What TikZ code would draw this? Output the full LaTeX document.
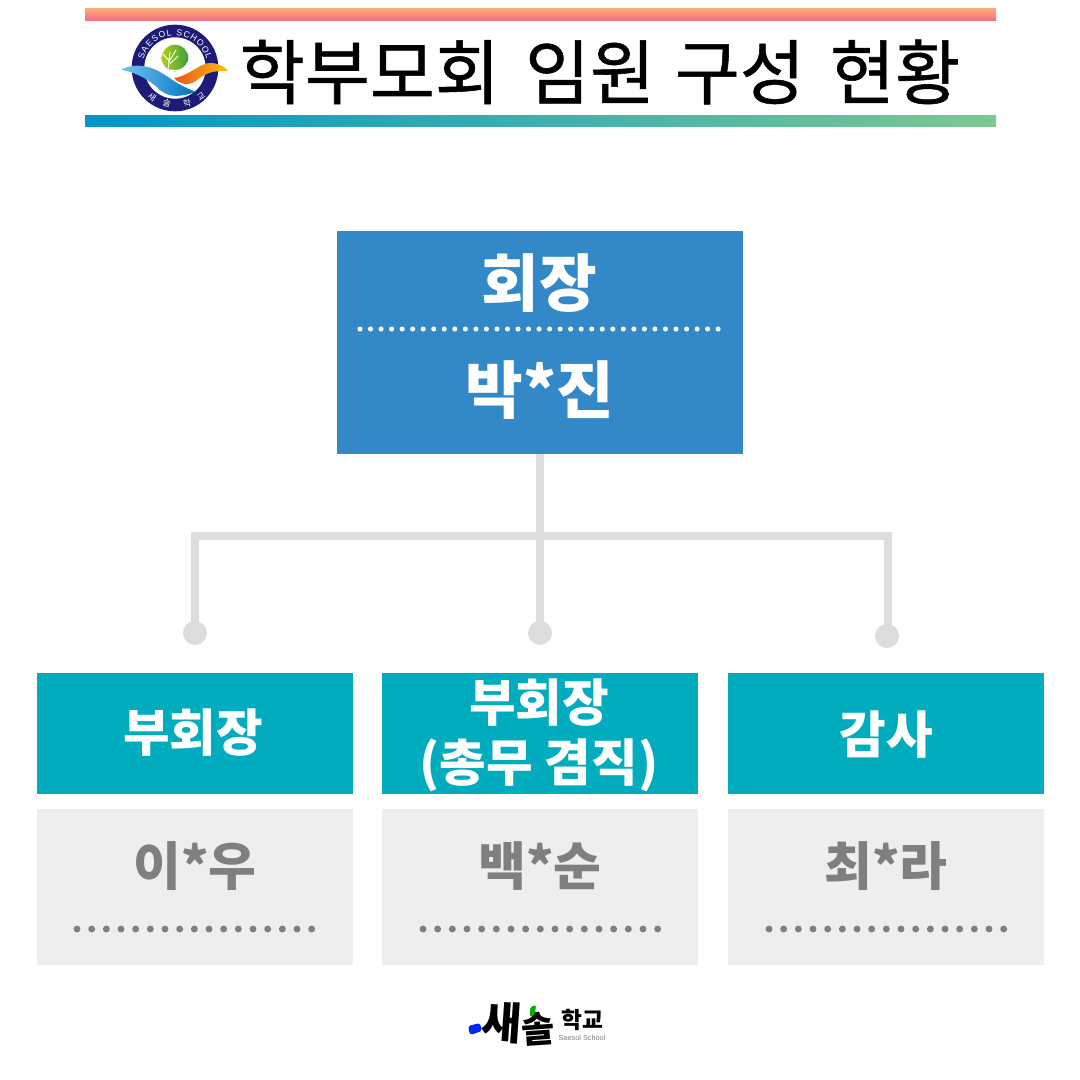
\documentclass[tikz,border=0pt]{standalone}
\usepackage{fontspec}
\setmainfont{Noto Sans CJK KR}
\newfontfamily\latinfont{Liberation Sans}
\newfontfamily\headerfont[FakeBold=0.8]{Noto Sans CJK KR}
\usetikzlibrary{decorations.text}
\definecolor{chiefColor}{RGB}{51,137,199}
\definecolor{roleColor}{RGB}{0,172,190}
\definecolor{nameColor}{RGB}{238,238,238}
\definecolor{nameText}{RGB}{127,127,127}
\definecolor{lineColor}{RGB}{221,221,221}
\definecolor{ringColor}{RGB}{28,28,120}
\tikzset{
  roleBox/.style={fill=roleColor,minimum width=237pt,minimum height=91pt,inner sep=0pt},
  nameBox/.style={fill=nameColor,minimum width=237pt,minimum height=117pt,inner sep=0pt},
  roleText/.style={text=white,font=\fontsize{38}{45}\selectfont\bfseries,align=center},
  nameLabel/.style={text=nameText,font=\fontsize{39}{44}\selectfont\bfseries},
  chiefText/.style={text=white,font=\fontsize{47}{52}\selectfont\bfseries},
  link/.style={draw=lineColor,line width=6pt},
  linkEnd/.style={circle,fill=lineColor,minimum size=18pt,inner sep=0pt},
  dotLine/.style={line cap=round,dash pattern=on 0pt off #1}
}
\begin{document}
\begin{tikzpicture}[x=.75pt,y=-.75pt]
  \useasboundingbox (0,0) rectangle (1080,1080);
  % Header
  \fill[top color={rgb,255:red,250;green,170;blue,120},bottom color={rgb,255:red,245;green,105;blue,130}] (85,9) rectangle (996,21);
  \fill[left color={rgb,255:red,0;green,150;blue,200},right color={rgb,255:red,125;green,200;blue,145}] (85,116) rectangle (996,127);
  \node (headerTitle) at (600,72) {\headerfont\fontsize{53}{60}\selectfont 학부모회\hspace{7pt} 임원\hspace{3pt} 구성\hspace{7pt} 현황};
  % School badge
  \fill[ringColor] (175,68) circle[radius=32.5pt];
  \fill[white] (175,68) circle[radius=23pt];
  \path[decorate,decoration={text along path,text align={fit to path},
    text={|\color{white}\latinfont\fontsize{6.5}{8}\selectfont|SAESOL SCHOOL}}]
    (143.4,59.5) arc[start angle=165,end angle=15,radius=24.5pt];
  \node[text=white,rotate=-35,inner sep=0pt,font=\fontsize{6.5}{7}\selectfont] (badgeA) at (152,97) {새};
  \node[text=white,rotate=-12,inner sep=0pt,font=\fontsize{6.5}{7}\selectfont] (badgeB) at (167,103) {솔};
  \node[text=white,rotate=12,inner sep=0pt,font=\fontsize{6.5}{7}\selectfont] (badgeC) at (187,103) {학};
  \node[text=white,rotate=35,inner sep=0pt,font=\fontsize{6.5}{7}\selectfont] (badgeD) at (201,97) {교};
  \shade[left color={rgb,255:red,175;green,205;blue,30},right color={rgb,255:red,60;green,160;blue,60}] (175,58) circle[radius=10pt];
  \draw[white,line width=.7pt,line cap=round] (168,70) -- (170,52) (170,62) -- (163,54) (170,60) -- (176,50) (170,64) -- (178,56);
  \draw[white,line width=.9pt] (170,70) .. controls (180,72) and (186,68) .. (188,62);
  \shade[left color={rgb,255:red,115;green,195;blue,240},right color={rgb,255:red,0;green,115;blue,195}] (122,69) .. controls (135,63) and (150,65) .. (165,75) .. controls (175,82) and (185,88) .. (196,92) .. controls (180,97) and (170,98) .. (160,90) .. controls (150,80) and (135,72) .. (122,70) -- cycle;
  \shade[left color={rgb,255:red,235;green,85;blue,20},right color={rgb,255:red,250;green,190;blue,20}] (174,78) .. controls (190,76) and (200,62) .. (212,63) .. controls (220,64) and (225,67) .. (228,71) .. controls (212,70) and (205,74) .. (197,80) .. controls (190,86) and (180,85) .. (174,78) -- cycle;
  % Chief
  \node[fill=chiefColor,minimum width=304.5pt,minimum height=167pt,inner sep=0pt] (chiefBox) at (540,342.5) {};
  \node[chiefText] (chiefRole) at (539,283) {회장};
  \node[chiefText] (chiefName) at (540,390) {박*진};
  \coordinate (chiefDotsA) at (360,329);
  \coordinate (chiefDotsB) at (720,329);
  \draw[white,line width=3.8pt,dotLine=7.9pt] (chiefDotsA) -- (chiefDotsB);
  % Roles
  \node[roleBox] (leftRole) at (195,733.5) {};
  \node[roleBox] (midRole) at (540,733.5) {};
  \node[roleBox] (rightRole) at (886,733.5) {};
  \node[roleText] (leftRoleText) at (193,733) {부회장};
  \node[roleText] (midRoleText) at (539,735) {부회장\\(총무 겸직)};
  \node[roleText] (rightRoleText) at (886,735) {감사};
  % Names
  \node[nameBox] (leftName) at (195,887) {};
  \node[nameBox] (midName) at (540,887) {};
  \node[nameBox] (rightName) at (886,887) {};
  \node[nameLabel] (leftNameText) at (195,866) {이*우};
  \node[nameLabel] (midNameText) at (540,866) {백*순};
  \node[nameLabel] (rightNameText) at (886,866) {최*라};
  \foreach \cx/\tag in {194/left,540/mid,886/right}{
    \coordinate (\tag DotsA) at (\cx-117,929);
    \coordinate (\tag DotsB) at (\cx+119,929);
    \draw[nameText,line width=5.2pt,dotLine=11pt] (\tag DotsA) -- (\tag DotsB);
  }
  % Links
  \node[linkEnd] (leftEnd) at (195,633) {};
  \node[linkEnd] (midEnd) at (540,633) {};
  \node[linkEnd] (rightEnd) at (887,636) {};
  \coordinate (busLeft) at (191,536);
  \coordinate (busRight) at (892,536);
  \draw[link] (chiefBox.south) -- (midEnd.center);
  \draw[link] (busLeft) -- (busRight);
  \draw[link] (leftEnd.center) -- (leftEnd.center |- busLeft);
  \draw[link] (rightEnd.center) ++(1,0) -- (888,536);
  % Footer logo
  \node[inner sep=0pt,font=\fontsize{33}{34}\selectfont\bfseries,rotate=-4] (footerA) at (502,1022) {새};
  \node[inner sep=0pt,font=\fontsize{27}{28}\selectfont\bfseries,rotate=4] (footerB) at (538,1029) {솔};
  \node[inner sep=0pt,font=\fontsize{17}{18}\selectfont\bfseries] (footerC) at (582,1020) {학교};
  \node[inner sep=0pt,text=nameText,font=\latinfont\fontsize{5.5}{6}\selectfont] (footerD) at (582,1038) {Saesol School};
  \fill[blue!85!cyan,rounded corners=2pt] (468,1026) -- (480,1023) -- (482,1031) -- (470,1035) -- cycle;
  \fill[green!70!black,rounded corners=1.5pt] (530,1007) -- (536,1005) -- (535,1015) -- (530,1017) -- cycle;
\end{tikzpicture}
\end{document}
